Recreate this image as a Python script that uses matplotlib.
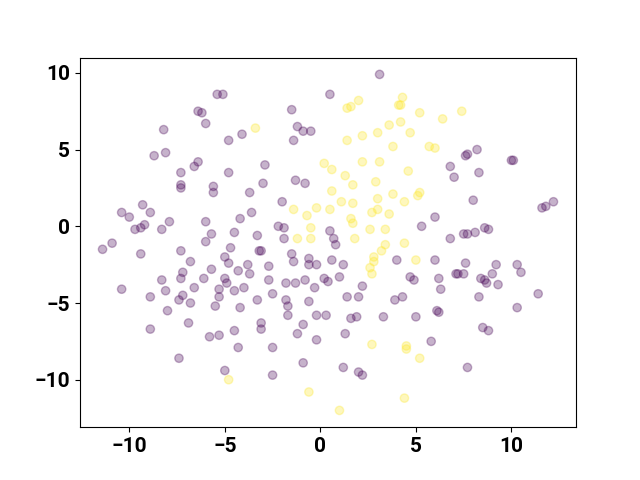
import numpy as np
import matplotlib.pyplot as plt

plt.rcParams['font.family'] = ['Roboto', 'DejaVu Sans']

# class 0 (purple) points
x0 = [3.1, 0.5, -5.4, -5.1, -6.4, -6.2, -6.0, -8.2, -8.7, -8.1, -6.4, -6.6, -7.3, -7.3, -7.3,
      -4.8, -4.1, -1.5, -1.2, -0.9, -0.5, -1.4, -2.9, -4.8, -5.6, -5.6, -3.0, -1.3, -0.8,
      6.8, 7.0, 7.6, 7.7, 8.2, 10.0, 10.1, 8.3,
      -9.3, -10.4, -10.0, -8.9, -9.7, -9.4, -9.2, -8.3, -7.9, -6.0, -11.4, -10.9, -9.4,
      -7.3, -6.8, -7.2, -7.3, -6.0, -6.1, -8.3, -6.6, -8.1, -10.4, -8.9, -7.2, -7.4, -6.8, -8.0,
      -3.7, -2.0, -4.2, -3.6, -2.2, -1.9, -1.9, -5.7, -4.5, -3.3, -4.7, -3.2, -3.1, -5.0, -4.8,
      -3.8, -2.7, -1.5, -1.4, -0.6, -0.6, -0.2, -5.7, -4.3, -3.7, -5.0, -4.9, -5.3, -4.5, -4.0,
      -2.7, -1.8, -1.3, -0.8, -0.3, 0.2, 0.4, -2.5, -1.8, -1.7, -0.6, -5.3, -5.5, -4.2, -3.3,
      0.5, 0.7, 0.8, 6.0, 5.3, 6.8, 0.6, 1.2, 4.0, 6.0, 1.0, 2.2, 4.7, 4.9, 6.2, 6.3,
      1.4, 2.0, 3.9, 4.3, 6.1, 6.2, 8.0, 11.6, 11.8, 12.2, 7.5, 7.7, 8.1, 8.6, 8.8,
      7.6, 7.1, 7.2, 7.5, 9.2, 9.0, 10.3, 10.5, 8.4, 8.6, 8.7, 9.3, 8.3, 11.4, 10.3,
      8.5, 8.8, 7.7, -6.9, -8.9, -7.4, -3.1, -3.1, -4.5, -5.8, -5.3, -4.3, -2.5,
      -0.9, -1.2, -0.2, 0.3, -0.2, -0.9, -5.0, -2.5, -1.7, 1.6, 1.9, 3.3, 5.0,
      1.3, 5.8, 1.2, 2.0, 2.2]
y0 = [9.9, 8.6, 8.6, 8.6, 7.5, 7.4, 6.7, 6.3, 4.6, 4.8, 4.2, 3.9, 3.5, 2.7, 2.5,
      5.6, 6.0, 7.6, 6.5, 6.2, 6.2, 5.6, 4.0, 3.5, 2.6, 2.2, 2.8, 3.0, 2.8,
      3.9, 3.2, 4.6, 4.7, 5.0, 4.3, 4.3, 3.5,
      1.4, 0.9, 0.6, 0.9, -0.2, -0.1, 0.1, -0.2, 0.3, 0.3, -1.5, -1.1, -1.8,
      -1.6, -2.3, -3.0, -3.4, -1.0, -3.4, -3.5, -4.0, -4.2, -4.1, -4.6, -4.5, -4.8, -5.0, -5.5,
      2.2, 1.6, 0.5, 0.9, 0.0, -0.1, -0.8, -0.5, -0.4, -0.6, -1.4, -1.6, -1.6, -2.0, -2.4,
      -2.5, -2.6, -1.8, -2.3, -2.1, -2.5, -2.5, -2.8, -2.9, -3.1, -3.4, -3.7, -4.1, -4.2, -4.0,
      -3.5, -3.7, -3.7, -3.5, -4.0, -3.4, -3.6, -4.4, -4.8, -5.2, -4.9, -4.6, -5.2, -5.3, -4.8,
      -0.3, -0.8, -1.2, 0.6, 0.0, -0.8, -2.2, -2.5, -2.2, -2.2, -3.3, -3.9, -3.3, -3.5, -3.4, -4.1,
      -4.6, -4.6, -4.8, -4.6, -5.5, -5.6, 1.7, 1.2, 1.3, 1.6, -0.5, -0.5, -0.4, -0.1, -0.2,
      -2.4, -3.1, -3.1, -3.1, -2.5, -3.1, -2.5, -3.0, -3.4, -3.5, -3.7, -3.8, -4.6, -4.4, -5.3,
      -6.6, -6.8, -9.2, -6.3, -6.7, -8.6, -6.3, -6.7, -6.8, -7.2, -7.1, -7.9, -7.9,
      -6.4, -7.0, -5.8, -5.8, -7.4, -8.9, -9.4, -9.7, -5.8, -6.0, -5.9, -5.9, -5.9,
      -7.0, -7.5, -9.2, -9.5, -9.7]

# class 1 (yellow) points
x1 = [-3.4, 0.2, 1.4, 1.6, 2.0, 4.3, 4.1, 4.2, 5.2, 6.4, 7.4, 3.6, 4.2, 4.7, 3.0, 2.2, 1.4,
      3.8, 5.7, 6.0, 0.6, 2.2, 3.1, 4.6, 1.3, 1.7, 2.9, 0.6, 1.1, 1.7, 0.5, 3.0, 3.8, 4.4,
      5.1, 5.2, 2.7, 3.0, 3.6, 1.6, 1.7, 2.6, 3.4, 1.8, 3.4, 3.2, 4.4, 2.8, 2.8, 2.6, 2.7,
      5.0, -1.4, -0.7, -0.2, -0.5, -1.2, -0.5, -4.8, -0.6, 2.7, 4.5, 4.5, 5.2, 4.4, 1.0]
y1 = [6.4, 4.1, 7.7, 7.8, 8.2, 8.4, 7.9, 7.9, 7.4, 7.0, 7.5, 6.6, 6.8, 6.1, 6.1, 5.9, 5.6,
      5.2, 5.2, 5.1, 3.7, 4.2, 4.2, 3.6, 3.3, 2.7, 2.9, 2.3, 1.6, 1.5, 1.1, 1.8, 2.1, 1.6,
      2.0, 2.2, 0.9, 1.1, 0.8, 0.5, 0.2, -0.2, -0.2, -0.8, -1.2, -1.6, -1.1, -2.0, -2.3, -2.7, -3.1,
      -2.2, 1.1, 0.7, 1.2, -0.1, -0.8, -0.8, -10.0, -10.8, -7.7, -7.8, -8.0, -8.6, -11.2, -12.0]

xs = np.array(x0 + x1)
ys = np.array(y0 + y1)
labels = np.array([0] * len(x0) + [1] * len(x1))

fig, ax = plt.subplots(figsize=(6.4, 4.8), dpi=100)
ax.scatter(xs, ys, c=labels, cmap='viridis', alpha=0.3)
for lab in ax.get_xticklabels() + ax.get_yticklabels():
    lab.set_fontsize(15)
    lab.set_fontweight('bold')
ax.tick_params(labelsize=15)
plt.setp(ax.get_xticklabels() + ax.get_yticklabels(), fontweight='bold')

fig.savefig('out.png')
